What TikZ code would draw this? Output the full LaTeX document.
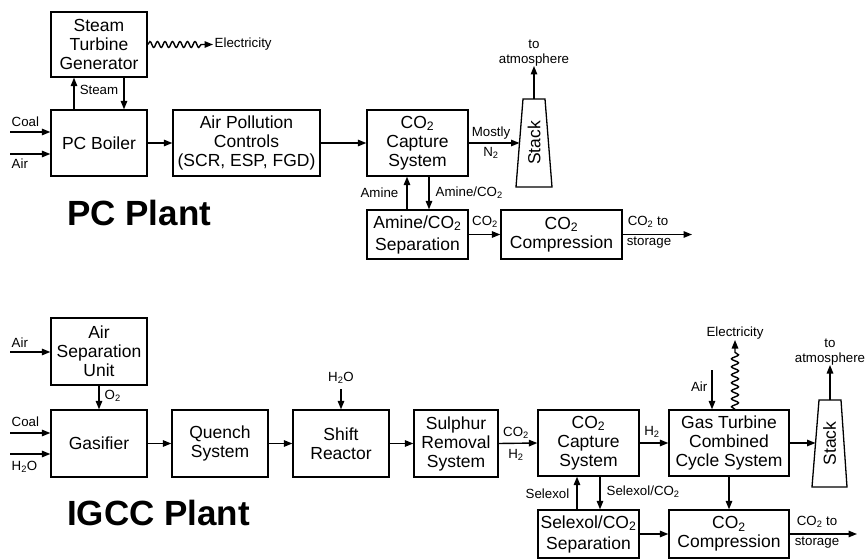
\documentclass[tikz,border=0pt]{standalone}
\usepackage{fontspec}
\setmainfont{Liberation Sans}
\usetikzlibrary{arrows.meta,decorations.pathmorphing,calc}
\newcommand\sbs[1]{\textsubscript{#1}}
\newcommand\bxfont{\fontsize{17.5}{19}\selectfont}
\newcommand\lbfont{\fontsize{13.3}{15.5}\selectfont}
\begin{document}
\begin{tikzpicture}[x=1pt,y=-1pt,
  box/.style={draw, line width=1.3pt, inner sep=0pt, align=center, font=\bxfont},
  arr/.style={line width=1.4pt, -{Triangle[length=8.5pt,width=6.5pt]}},
  lbl/.style={font=\lbfont, inner sep=0.5pt, align=center},
  wave/.style={decorate, decoration={snake, amplitude=3pt, segment length=7.5pt, post length=11pt}},
  stackline/.style={draw, line width=1.3pt, line join=miter},
  stacktext/.style={font=\bxfont, rotate=90, inner sep=0pt},
  ttl/.style={font=\bfseries\fontsize{35}{40}\selectfont, inner sep=0pt, anchor=base west}]
\useasboundingbox (0,0) rectangle (865,559);
% ---------------- PC plant ----------------
\node[box, minimum width=96pt, minimum height=65pt] (stg) at (99,44.5) {Steam\\Turbine\\Generator};
\node[box, minimum width=96pt, minimum height=66pt] (boiler) at (99,143) {PC Boiler};
\node[box, minimum width=147pt, minimum height=66pt] (apc) at (246.5,143) {Air Pollution\\Controls\\(SCR, ESP, FGD)};
\node[box, minimum width=101pt, minimum height=66pt] (cap1) at (417.5,143) {CO\sbs{2}\\Capture\\System};
\node[box, minimum width=101pt, minimum height=49pt] (sep1) at (417.5,234.5) {Amine/CO\sbs{2}\\[3pt]Separation};
\node[box, minimum width=121pt, minimum height=49pt] (comp1) at (561.5,234.5) {CO\sbs{2}\\Compression};
\coordinate (s1tl) at (523,99);
\coordinate (s1tr) at (545,99);
\coordinate (s1br) at (552,187);
\coordinate (s1bl) at (516,187);
\draw[stackline] (s1tl) -- (s1tr) -- (s1br) -- (s1bl) -- cycle;
\coordinate (s1w) at ($(s1tl)!0.5!(s1bl)$);
\coordinate (s1n) at ($(s1tl)!0.5!(s1tr)$);
\node[stacktext] (stack1) at (534,143) {Stack};
\node[ttl] (title1) at (67,225) {PC Plant};

\coordinate (coal1) at (10,132);
\coordinate (air1) at (10,154);
\coordinate (elec1) at (213,44.5);
\coordinate (atm1) at (534,66);
\coordinate (store1) at (692,234.5);

\draw[arr] (coal1) -- (coal1 -| boiler.west);
\draw[arr] (air1) -- (air1 -| boiler.west);
\node[lbl, anchor=west] (coal1l) at (11,122) {Coal};
\node[lbl, anchor=west] (air1l) at (11,164) {Air};
\draw[arr] ([xshift=-25pt]boiler.north) -- ([xshift=-25pt]stg.south);
\draw[arr] ([xshift=25pt]stg.south) -- ([xshift=25pt]boiler.north);
\node[lbl] (steaml) at (99,90) {Steam};
\draw[arr, wave] (stg.east) -- (elec1);
\node[lbl, anchor=west] (elec1l) at (214,44.5) {Electricity};
\draw[arr] (boiler.east) -- (apc.west);
\draw[arr] (apc.east) -- (cap1.west);
\draw[arr] (cap1.east) -- (s1w);
\node[lbl] (mostly) at (491,133) {Mostly};
\node[lbl] (n2a) at (491,153) {N\sbs{2}};
\draw[arr] (s1n) -- (atm1);
\node[lbl, anchor=south] (atm1l) at (534,67) {to\\atmosphere};
\draw[arr] ([xshift=-10.5pt]sep1.north) -- ([xshift=-10.5pt]cap1.south);
\draw[arr] ([xshift=11.5pt]cap1.south) -- ([xshift=11.5pt]sep1.north);
\node[lbl, anchor=east] (amine) at (399,193) {Amine};
\node[lbl, anchor=west] (amineco2) at (435,193) {Amine/CO\sbs{2}};
\draw[arr] (sep1.east) -- (comp1.west);
\node[lbl] (co2a) at (485,222) {CO\sbs{2}};
\draw[arr] (comp1.east) -- (store1);
\node[lbl] (co2to1) at (648,222) {CO\sbs{2} to};
\node[lbl] (stor1) at (649,243) {storage};

% ---------------- IGCC plant ----------------
\node[box, minimum width=96pt, minimum height=67pt] (asu) at (99,351.5) {Air\\Separation\\Unit};
\node[box, minimum width=96pt, minimum height=67pt] (gas) at (99,443.5) {Gasifier};
\node[box, minimum width=96pt, minimum height=67pt] (quench) at (220,443.5) {Quench\\System};
\node[box, minimum width=96pt, minimum height=67pt] (shift) at (341,443.5) {Shift\\Reactor};
\node[box, minimum width=84pt, minimum height=67pt] (sulph) at (456,443.5) {Sulphur\\Removal\\System};
\node[box, minimum width=101pt, minimum height=66pt] (cap2) at (588.5,443) {CO\sbs{2}\\Capture\\System};
\node[box, minimum width=120pt, minimum height=66pt] (gt) at (729,443) {Gas Turbine\\Combined\\Cycle System};
\node[box, minimum width=101pt, minimum height=48pt] (sep2) at (588.5,534) {Selexol/CO\sbs{2}\\[2pt]Separation};
\node[box, minimum width=120pt, minimum height=48pt] (comp2) at (729,534) {CO\sbs{2}\\Compression};
\coordinate (s2tl) at (819,400);
\coordinate (s2tr) at (841,400);
\coordinate (s2br) at (847,487);
\coordinate (s2bl) at (812,487);
\draw[stackline] (s2tl) -- (s2tr) -- (s2br) -- (s2bl) -- cycle;
\coordinate (s2w) at ($(s2tl)!0.5!(s2bl)$);
\coordinate (s2n) at ($(s2tl)!0.5!(s2tr)$);
\node[stacktext] (stack2) at (829.5,443.5) {Stack};
\node[ttl] (title2) at (67,525) {IGCC Plant};

\coordinate (air2) at (10,352);
\coordinate (coal2) at (10,433);
\coordinate (h2o2) at (10,454);
\coordinate (h2oin) at (341,389);
\coordinate (airgt) at (712,370);
\coordinate (elec2) at (735,340);
\coordinate (atm2) at (830,365);
\coordinate (store2) at (857,534);

\draw[arr] (air2) -- (air2 -| asu.west);
\node[lbl, anchor=west] (air2l) at (11,343) {Air};
\draw[arr] (asu.south) -- (gas.north);
\node[lbl, anchor=west] (o2l) at (104,396) {O\sbs{2}};
\draw[arr] (coal2) -- (coal2 -| gas.west);
\draw[arr] (h2o2) -- (h2o2 -| gas.west);
\node[lbl, anchor=west] (coal2l) at (11,422) {Coal};
\node[lbl, anchor=west] (h2o2l) at (11,467) {H\sbs{2}O};
\draw[arr] (gas.east) -- (quench.west);
\draw[arr] (quench.east) -- (shift.west);
\draw[arr] (h2oin) -- (shift.north);
\node[lbl] (h2oinl) at (341,378) {H\sbs{2}O};
\draw[arr] (shift.east) -- (sulph.west);
\draw[arr] (sulph.east) -- (cap2.west);
\node[lbl] (co2b) at (516,433) {CO\sbs{2}};
\node[lbl] (h2b) at (516,455) {H\sbs{2}};
\draw[arr] (cap2.east) -- (gt.west);
\node[lbl] (h2c) at (652,432) {H\sbs{2}};
\draw[arr] (airgt) -- (airgt |- gt.north);
\node[lbl, anchor=east] (airgtl) at (708,387) {Air};
\draw[arr, decorate, decoration={snake, amplitude=3.5pt, segment length=8pt, post length=12pt}] ([xshift=6pt]gt.north) -- (elec2);
\node[lbl] (elec2l) at (735,333) {Electricity};
\draw[arr] (gt.east) -- (gt.east -| s2w);
\draw[arr] (s2n) -- (atm2);
\node[lbl, anchor=south] (atm2l) at (830,366) {to\\atmosphere};
\draw[arr] ([xshift=-11.5pt]sep2.north) -- ([xshift=-11.5pt]cap2.south);
\draw[arr] ([xshift=11.5pt]cap2.south) -- ([xshift=11.5pt]sep2.north);
\node[lbl, anchor=east] (selexol) at (570,494) {Selexol};
\node[lbl, anchor=west] (selexolco2) at (606,492) {Selexol/CO\sbs{2}};
\draw[arr] (sep2.east) -- (comp2.west);
\draw[arr] (gt.south) -- (comp2.north);
\draw[arr] (comp2.east) -- (store2);
\node[lbl] (co2to2) at (817,522) {CO\sbs{2} to};
\node[lbl] (stor2) at (817,543) {storage};
\end{tikzpicture}
\end{document}
